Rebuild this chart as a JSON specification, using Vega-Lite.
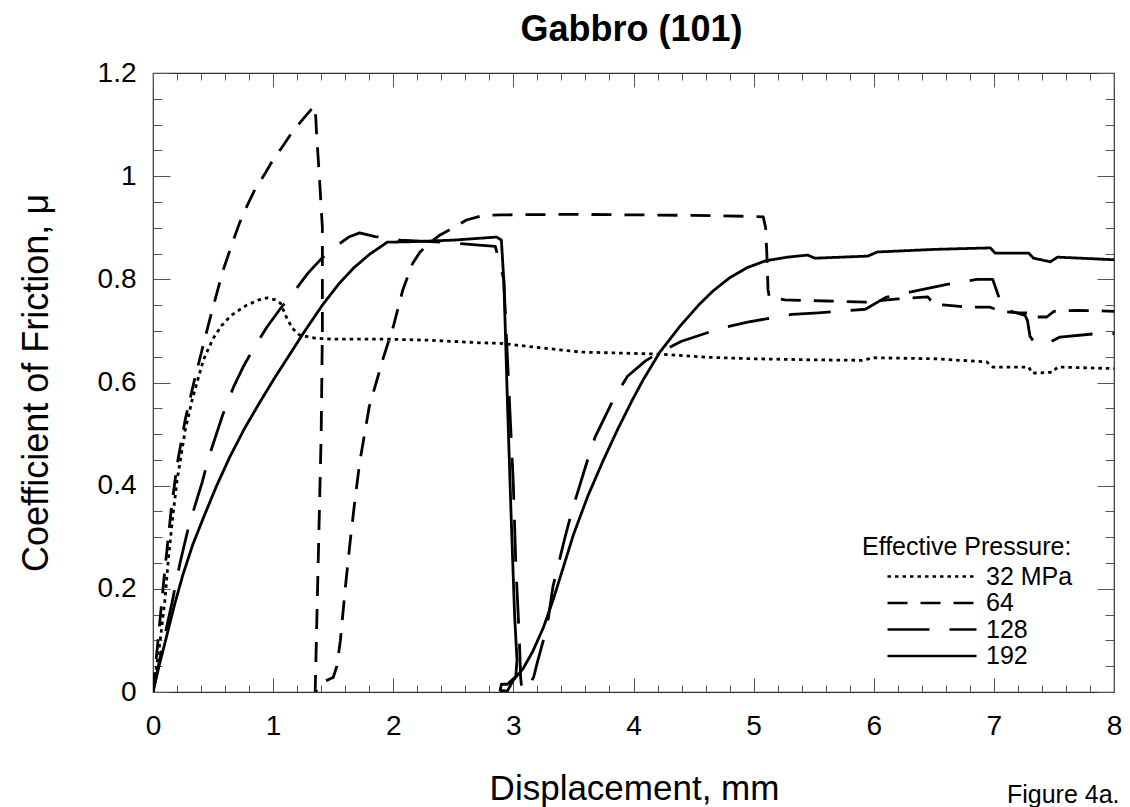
{
  "$schema": "https://vega.github.io/schema/vega-lite/v6.json",
  "autosize": {"type": "none"},
  "padding": {"left": 153, "top": 73, "right": 16, "bottom": 115},
  "width": 961,
  "height": 619,
  "background": "white",
  "config": {
    "view": {"stroke": "#333", "strokeWidth": 1.2},
    "axis": {"domain": false, "grid": false}
  },
  "datasets": {
    "curves": [
      {"p":"32 MPa","i":0,"x":0,"y":0},{"p":"32 MPa","i":1,"x":0.03,"y":0.05},{"p":"32 MPa","i":2,"x":0.06,"y":0.1},{"p":"32 MPa","i":3,"x":0.1,"y":0.18},{"p":"32 MPa","i":4,"x":0.125,"y":0.25},{"p":"32 MPa","i":5,"x":0.16,"y":0.33},{"p":"32 MPa","i":6,"x":0.2,"y":0.41},{"p":"32 MPa","i":7,"x":0.27,"y":0.51},{"p":"32 MPa","i":8,"x":0.33,"y":0.57},{"p":"32 MPa","i":9,"x":0.42,"y":0.644},{"p":"32 MPa","i":10,"x":0.5,"y":0.685},{"p":"32 MPa","i":11,"x":0.57,"y":0.71},{"p":"32 MPa","i":12,"x":0.65,"y":0.73},{"p":"32 MPa","i":13,"x":0.78,"y":0.75},{"p":"32 MPa","i":14,"x":0.88,"y":0.76},{"p":"32 MPa","i":15,"x":0.95,"y":0.764},{"p":"32 MPa","i":16,"x":1.02,"y":0.76},{"p":"32 MPa","i":17,"x":1.06,"y":0.754},{"p":"32 MPa","i":18,"x":1.11,"y":0.727},{"p":"32 MPa","i":19,"x":1.16,"y":0.705},{"p":"32 MPa","i":20,"x":1.22,"y":0.692},{"p":"32 MPa","i":21,"x":1.35,"y":0.686},{"p":"32 MPa","i":22,"x":1.5,"y":0.684},{"p":"32 MPa","i":23,"x":1.95,"y":0.684},{"p":"32 MPa","i":24,"x":2.3,"y":0.682},{"p":"32 MPa","i":25,"x":2.72,"y":0.677},{"p":"32 MPa","i":26,"x":2.89,"y":0.676},{"p":"32 MPa","i":27,"x":3.2,"y":0.668},{"p":"32 MPa","i":28,"x":3.56,"y":0.659},{"p":"32 MPa","i":29,"x":3.9,"y":0.657},{"p":"32 MPa","i":30,"x":4.22,"y":0.655},{"p":"32 MPa","i":31,"x":4.61,"y":0.649},{"p":"32 MPa","i":32,"x":5.0,"y":0.646},{"p":"32 MPa","i":33,"x":5.47,"y":0.644},{"p":"32 MPa","i":34,"x":5.9,"y":0.643},{"p":"32 MPa","i":35,"x":6.0,"y":0.648},{"p":"32 MPa","i":36,"x":6.5,"y":0.646},{"p":"32 MPa","i":37,"x":6.94,"y":0.64},{"p":"32 MPa","i":38,"x":6.99,"y":0.63},{"p":"32 MPa","i":39,"x":7.29,"y":0.63},{"p":"32 MPa","i":40,"x":7.32,"y":0.618},{"p":"32 MPa","i":41,"x":7.49,"y":0.62},{"p":"32 MPa","i":42,"x":7.53,"y":0.63},{"p":"32 MPa","i":43,"x":8.0,"y":0.627},

      {"p":"64","i":0,"x":0,"y":0},{"p":"64","i":1,"x":0.05,"y":0.12},{"p":"64","i":2,"x":0.1,"y":0.24},{"p":"64","i":3,"x":0.15,"y":0.35},{"p":"64","i":4,"x":0.2,"y":0.44},{"p":"64","i":5,"x":0.27,"y":0.53},{"p":"64","i":6,"x":0.34,"y":0.6},{"p":"64","i":7,"x":0.41,"y":0.665},{"p":"64","i":8,"x":0.47,"y":0.72},{"p":"64","i":9,"x":0.53,"y":0.772},{"p":"64","i":10,"x":0.58,"y":0.815},{"p":"64","i":11,"x":0.66,"y":0.87},{"p":"64","i":12,"x":0.72,"y":0.909},{"p":"64","i":13,"x":0.79,"y":0.946},{"p":"64","i":14,"x":0.85,"y":0.975},{"p":"64","i":15,"x":0.93,"y":1.004},{"p":"64","i":16,"x":0.99,"y":1.028},{"p":"64","i":17,"x":1.08,"y":1.058},{"p":"64","i":18,"x":1.16,"y":1.086},{"p":"64","i":19,"x":1.25,"y":1.111},{"p":"64","i":20,"x":1.32,"y":1.13},{"p":"64","i":21,"x":1.35,"y":1.136},{"p":"64","i":22,"x":1.36,"y":1.09},{"p":"64","i":23,"x":1.39,"y":0.98},{"p":"64","i":24,"x":1.41,"y":0.9},{"p":"64","i":25,"x":1.41,"y":0.7},{"p":"64","i":26,"x":1.4,"y":0.5},{"p":"64","i":27,"x":1.38,"y":0.3},{"p":"64","i":28,"x":1.36,"y":0.1},{"p":"64","i":29,"x":1.35,"y":0.0},{"p":"64","i":30,"x":1.42,"y":0.02},{"p":"64","i":31,"x":1.5,"y":0.028},{"p":"64","i":32,"x":1.53,"y":0.05},{"p":"64","i":33,"x":1.56,"y":0.1},{"p":"64","i":34,"x":1.6,"y":0.2},{"p":"64","i":35,"x":1.64,"y":0.289},{"p":"64","i":36,"x":1.68,"y":0.37},{"p":"64","i":37,"x":1.72,"y":0.444},{"p":"64","i":38,"x":1.8,"y":0.553},{"p":"64","i":39,"x":1.92,"y":0.65},{"p":"64","i":40,"x":2.0,"y":0.708},{"p":"64","i":41,"x":2.08,"y":0.78},{"p":"64","i":42,"x":2.16,"y":0.83},{"p":"64","i":43,"x":2.22,"y":0.852},{"p":"64","i":44,"x":2.31,"y":0.872},{"p":"64","i":45,"x":2.39,"y":0.886},{"p":"64","i":46,"x":2.5,"y":0.9},{"p":"64","i":47,"x":2.61,"y":0.915},{"p":"64","i":48,"x":2.75,"y":0.924},{"p":"64","i":49,"x":2.9,"y":0.925},{"p":"64","i":50,"x":3.5,"y":0.926},{"p":"64","i":51,"x":4.0,"y":0.925},{"p":"64","i":52,"x":4.5,"y":0.924},{"p":"64","i":53,"x":5.0,"y":0.922},{"p":"64","i":54,"x":5.08,"y":0.921},{"p":"64","i":55,"x":5.1,"y":0.9},{"p":"64","i":56,"x":5.11,"y":0.85},{"p":"64","i":57,"x":5.12,"y":0.78},{"p":"64","i":58,"x":5.13,"y":0.766},{"p":"64","i":59,"x":5.26,"y":0.76},{"p":"64","i":60,"x":5.6,"y":0.758},{"p":"64","i":61,"x":5.94,"y":0.756},{"p":"64","i":62,"x":6.2,"y":0.762},{"p":"64","i":63,"x":6.45,"y":0.766},{"p":"64","i":64,"x":6.5,"y":0.752},{"p":"64","i":65,"x":6.6,"y":0.75},{"p":"64","i":66,"x":6.78,"y":0.746},{"p":"64","i":67,"x":6.97,"y":0.746},{"p":"64","i":68,"x":7.05,"y":0.738},{"p":"64","i":69,"x":7.2,"y":0.735},{"p":"64","i":70,"x":7.28,"y":0.735},{"p":"64","i":71,"x":7.3,"y":0.727},{"p":"64","i":72,"x":7.44,"y":0.727},{"p":"64","i":73,"x":7.5,"y":0.738},{"p":"64","i":74,"x":7.7,"y":0.74},{"p":"64","i":75,"x":8.0,"y":0.738},

      {"p":"128","i":0,"x":0,"y":0},{"p":"128","i":1,"x":0.04,"y":0.045},{"p":"128","i":2,"x":0.08,"y":0.09},{"p":"128","i":3,"x":0.16,"y":0.175},{"p":"128","i":4,"x":0.225,"y":0.25},{"p":"128","i":5,"x":0.29,"y":0.314},{"p":"128","i":6,"x":0.35,"y":0.362},{"p":"128","i":7,"x":0.41,"y":0.407},{"p":"128","i":8,"x":0.46,"y":0.452},{"p":"128","i":9,"x":0.58,"y":0.537},{"p":"128","i":10,"x":0.67,"y":0.591},{"p":"128","i":11,"x":0.75,"y":0.63},{"p":"128","i":12,"x":0.83,"y":0.663},{"p":"128","i":13,"x":0.95,"y":0.708},{"p":"128","i":14,"x":1.06,"y":0.743},{"p":"128","i":15,"x":1.17,"y":0.775},{"p":"128","i":16,"x":1.29,"y":0.812},{"p":"128","i":17,"x":1.41,"y":0.842},{"p":"128","i":18,"x":1.54,"y":0.867},{"p":"128","i":19,"x":1.63,"y":0.882},{"p":"128","i":20,"x":1.72,"y":0.89},{"p":"128","i":21,"x":1.85,"y":0.883},{"p":"128","i":22,"x":2.06,"y":0.876},{"p":"128","i":23,"x":2.41,"y":0.872},{"p":"128","i":24,"x":2.74,"y":0.866},{"p":"128","i":25,"x":2.85,"y":0.864},{"p":"128","i":26,"x":2.92,"y":0.8},{"p":"128","i":27,"x":2.97,"y":0.55},{"p":"128","i":28,"x":3.0,"y":0.4},{"p":"128","i":29,"x":3.02,"y":0.25},{"p":"128","i":30,"x":3.05,"y":0.1},{"p":"128","i":31,"x":3.06,"y":0.03},{"p":"128","i":32,"x":3.07,"y":0.005},{"p":"128","i":33,"x":3.12,"y":0.005},{"p":"128","i":34,"x":3.17,"y":0.03},{"p":"128","i":35,"x":3.2,"y":0.058},{"p":"128","i":36,"x":3.28,"y":0.126},{"p":"128","i":37,"x":3.33,"y":0.205},{"p":"128","i":38,"x":3.43,"y":0.3},{"p":"128","i":39,"x":3.49,"y":0.353},{"p":"128","i":40,"x":3.61,"y":0.444},{"p":"128","i":41,"x":3.68,"y":0.494},{"p":"128","i":42,"x":3.83,"y":0.566},{"p":"128","i":43,"x":3.95,"y":0.612},{"p":"128","i":44,"x":4.1,"y":0.642},{"p":"128","i":45,"x":4.2,"y":0.656},{"p":"128","i":46,"x":4.4,"y":0.68},{"p":"128","i":47,"x":4.74,"y":0.706},{"p":"128","i":48,"x":4.95,"y":0.717},{"p":"128","i":49,"x":5.32,"y":0.732},{"p":"128","i":50,"x":5.54,"y":0.735},{"p":"128","i":51,"x":5.93,"y":0.742},{"p":"128","i":52,"x":6.1,"y":0.765},{"p":"128","i":53,"x":6.3,"y":0.775},{"p":"128","i":54,"x":6.61,"y":0.79},{"p":"128","i":55,"x":6.86,"y":0.8},{"p":"128","i":56,"x":6.99,"y":0.8},{"p":"128","i":57,"x":7.02,"y":0.78},{"p":"128","i":58,"x":7.05,"y":0.76},{"p":"128","i":59,"x":7.08,"y":0.742},{"p":"128","i":60,"x":7.19,"y":0.735},{"p":"128","i":61,"x":7.26,"y":0.73},{"p":"128","i":62,"x":7.28,"y":0.72},{"p":"128","i":63,"x":7.3,"y":0.69},{"p":"128","i":64,"x":7.33,"y":0.68},{"p":"128","i":65,"x":7.44,"y":0.675},{"p":"128","i":66,"x":7.55,"y":0.688},{"p":"128","i":67,"x":7.91,"y":0.696},{"p":"128","i":68,"x":8.0,"y":0.695},

      {"p":"192","i":0,"x":0,"y":0},{"p":"192","i":1,"x":0.05,"y":0.05},{"p":"192","i":2,"x":0.11,"y":0.105},{"p":"192","i":3,"x":0.18,"y":0.17},{"p":"192","i":4,"x":0.25,"y":0.228},{"p":"192","i":5,"x":0.33,"y":0.285},{"p":"192","i":6,"x":0.42,"y":0.338},{"p":"192","i":7,"x":0.53,"y":0.4},{"p":"192","i":8,"x":0.64,"y":0.456},{"p":"192","i":9,"x":0.76,"y":0.51},{"p":"192","i":10,"x":0.89,"y":0.562},{"p":"192","i":11,"x":1.01,"y":0.608},{"p":"192","i":12,"x":1.14,"y":0.655},{"p":"192","i":13,"x":1.25,"y":0.695},{"p":"192","i":14,"x":1.41,"y":0.75},{"p":"192","i":15,"x":1.55,"y":0.792},{"p":"192","i":16,"x":1.67,"y":0.822},{"p":"192","i":17,"x":1.8,"y":0.848},{"p":"192","i":18,"x":1.95,"y":0.872},{"p":"192","i":19,"x":2.16,"y":0.873},{"p":"192","i":20,"x":2.5,"y":0.876},{"p":"192","i":21,"x":2.86,"y":0.882},{"p":"192","i":22,"x":2.9,"y":0.876},{"p":"192","i":23,"x":2.92,"y":0.8},{"p":"192","i":24,"x":2.93,"y":0.725},{"p":"192","i":25,"x":2.95,"y":0.566},{"p":"192","i":26,"x":2.98,"y":0.35},{"p":"192","i":27,"x":3.01,"y":0.15},{"p":"192","i":28,"x":3.03,"y":0.062},{"p":"192","i":29,"x":3.02,"y":0.03},{"p":"192","i":30,"x":2.95,"y":0.015},{"p":"192","i":31,"x":2.9,"y":0.015},{"p":"192","i":32,"x":2.89,"y":0.003},{"p":"192","i":33,"x":2.95,"y":0.002},{"p":"192","i":34,"x":3.0,"y":0.023},{"p":"192","i":35,"x":3.08,"y":0.045},{"p":"192","i":36,"x":3.16,"y":0.078},{"p":"192","i":37,"x":3.25,"y":0.125},{"p":"192","i":38,"x":3.33,"y":0.178},{"p":"192","i":39,"x":3.42,"y":0.245},{"p":"192","i":40,"x":3.5,"y":0.305},{"p":"192","i":41,"x":3.62,"y":0.38},{"p":"192","i":42,"x":3.75,"y":0.45},{"p":"192","i":43,"x":3.87,"y":0.51},{"p":"192","i":44,"x":3.99,"y":0.566},{"p":"192","i":45,"x":4.08,"y":0.605},{"p":"192","i":46,"x":4.22,"y":0.659},{"p":"192","i":47,"x":4.39,"y":0.71},{"p":"192","i":48,"x":4.55,"y":0.752},{"p":"192","i":49,"x":4.66,"y":0.777},{"p":"192","i":50,"x":4.8,"y":0.803},{"p":"192","i":51,"x":4.95,"y":0.823},{"p":"192","i":52,"x":5.1,"y":0.836},{"p":"192","i":53,"x":5.28,"y":0.843},{"p":"192","i":54,"x":5.45,"y":0.847},{"p":"192","i":55,"x":5.51,"y":0.841},{"p":"192","i":56,"x":5.95,"y":0.845},{"p":"192","i":57,"x":6.03,"y":0.853},{"p":"192","i":58,"x":6.5,"y":0.858},{"p":"192","i":59,"x":6.97,"y":0.861},{"p":"192","i":60,"x":7.01,"y":0.851},{"p":"192","i":61,"x":7.29,"y":0.851},{"p":"192","i":62,"x":7.33,"y":0.841},{"p":"192","i":63,"x":7.47,"y":0.834},{"p":"192","i":64,"x":7.53,"y":0.843},{"p":"192","i":65,"x":8.0,"y":0.838}
    ]
  },
  "data": {"name": "curves"},
  "layer": [
    {
      "mark": {"type": "line", "color": "black", "strokeWidth": 2.8, "strokeCap": "butt", "strokeJoin": "round", "clip": true},
      "encoding": {
        "x": {
          "field": "x", "type": "quantitative",
          "scale": {"domain": [0, 8], "nice": false, "zero": false},
          "axis": {
            "orient": "bottom",
            "values": [0,0.2,0.4,0.6,0.8,1,1.2,1.4,1.6,1.8,2,2.2,2.4,2.6,2.8,3,3.2,3.4,3.6,3.8,4,4.2,4.4,4.6,4.8,5,5.2,5.4,5.6,5.8,6,6.2,6.4,6.6,6.8,7,7.2,7.4,7.6,7.8,8],
            "labelExpr": "datum.value % 1 === 0 ? format(datum.value, 'd') : ''",
            "tickSize": {"condition": {"test": "datum.value % 1 === 0", "value": -14}, "value": -7},
            "tickColor": "#555", "tickWidth": 1,
            "labelFont": "Liberation Sans", "labelFontSize": 28, "labelColor": "black", "labelPadding": 34,
            "labelFlush": false, "labelOverlap": false,
            "title": "Displacement, mm", "titleFont": "Liberation Sans", "titleFontSize": 35, "titleFontWeight": "normal", "titleColor": "black",
            "titleX": 481, "titleY": 107, "titleAlign": "center", "titleBaseline": "alphabetic"
          }
        },
        "y": {
          "field": "y", "type": "quantitative",
          "scale": {"domain": [0, 1.2], "nice": false, "zero": false},
          "axis": {
            "orient": "left",
            "values": [0,0.05,0.1,0.15,0.2,0.25,0.3,0.35,0.4,0.45,0.5,0.55,0.6,0.65,0.7,0.75,0.8,0.85,0.9,0.95,1,1.05,1.1,1.15,1.2],
            "labelExpr": "abs(datum.value*5 - round(datum.value*5)) < 0.000001 ? format(datum.value, '~g') : ''",
            "tickSize": {"condition": {"test": "abs(datum.value*5 - round(datum.value*5)) < 0.000001", "value": -17}, "value": -9},
            "tickColor": "#555", "tickWidth": 1,
            "labelFont": "Liberation Sans", "labelFontSize": 28, "labelColor": "black", "labelPadding": 34,
            "labelFlush": false, "labelOverlap": false,
            "title": "Coefficient of Friction, μ", "titleFont": "Liberation Sans", "titleFontSize": 36, "titleFontWeight": "normal", "titleColor": "black",
            "titleAngle": -90, "titleX": -106, "titleY": 309.5, "titleAlign": "center", "titleBaseline": "alphabetic"
          }
        },
        "order": {"field": "i", "type": "quantitative"},
        "strokeDash": {
          "field": "p", "type": "nominal",
          "scale": {"domain": ["32 MPa", "64", "128", "192"], "range": [[3.5, 4], [20, 13], [42, 20], [1, 0]]},
          "legend": {
            "orient": "none", "legendX": 709, "legendY": 462,
            "title": "Effective Pressure:", "titleFont": "Liberation Sans", "titleFontSize": 25, "titleFontWeight": "normal", "titleColor": "black", "titlePadding": 4, "titleLimit": 500,
            "labelFont": "Liberation Sans", "labelFontSize": 25, "labelColor": "black", "labelLimit": 300,
            "symbolType": "stroke", "symbolSize": 7921, "symbolStrokeWidth": 2.6, "symbolStrokeColor": "black",
            "symbolOffset": 24, "labelOffset": 8, "clipHeight": 25, "rowPadding": 0.5, "padding": 0
          }
        }
      }
    },
    {
      "mark": {"type": "point", "opacity": 0},
      "encoding": {
        "x": {
          "field": "x", "type": "quantitative",
          "axis": {"orient": "bottom", "ticks": false, "labels": false, "title": "Figure 4a.", "titleFont": "Liberation Sans", "titleFontSize": 25, "titleFontWeight": "normal", "titleColor": "black", "titleX": 966, "titleY": 110, "titleAlign": "right", "titleBaseline": "alphabetic"}
        },
        "y": {
          "field": "y", "type": "quantitative",
          "axis": {
            "orient": "right", "title": null, "labels": false,
            "values": [0,0.05,0.1,0.15,0.2,0.25,0.3,0.35,0.4,0.45,0.5,0.55,0.6,0.65,0.7,0.75,0.8,0.85,0.9,0.95,1,1.05,1.1,1.15,1.2],
            "tickSize": {"condition": {"test": "abs(datum.value*5 - round(datum.value*5)) < 0.000001", "value": -17}, "value": -9},
            "tickColor": "#555", "tickWidth": 1
          }
        }
      }
    },
    {
      "mark": {"type": "point", "opacity": 0},
      "encoding": {
        "x": {
          "field": "x", "type": "quantitative",
          "axis": {
            "orient": "top", "labels": false,
            "values": [0,0.2,0.4,0.6,0.8,1,1.2,1.4,1.6,1.8,2,2.2,2.4,2.6,2.8,3,3.2,3.4,3.6,3.8,4,4.2,4.4,4.6,4.8,5,5.2,5.4,5.6,5.8,6,6.2,6.4,6.6,6.8,7,7.2,7.4,7.6,7.8,8],
            "tickSize": {"condition": {"test": "datum.value % 1 === 0", "value": -14}, "value": -7},
            "tickColor": "#555", "tickWidth": 1,
            "title": "Gabbro (101)", "titleFont": "Liberation Sans", "titleFontSize": 36, "titleFontWeight": "bold", "titleColor": "black",
            "titleX": 478, "titleY": -33, "titleAlign": "center", "titleBaseline": "alphabetic"
          }
        },
        "y": {"field": "y", "type": "quantitative", "axis": null}
      }
    }
  ],
  "resolve": {"axis": {"x": "independent", "y": "independent"}}
}
